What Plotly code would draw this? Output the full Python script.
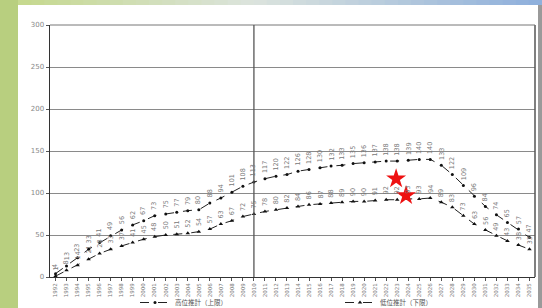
import plotly.graph_objects as go

years = [str(y) for y in range(1992, 2036)]
upper = [4, 13, 23, 33, 41, 49, 56, 62, 67, 73, 75, 77, 79, 80, 88, 94, 101, 108, 113,
         117, 120, 122, 126, 128, 130, 132, 133, 135, 136, 137, 138, 138, 139, 140, 140,
         133, 122, 109, 96, 84, 74, 65, 57, 47]
lower = [1, 8, 14, 21, 28, 33, 37, 41, 45, 48, 50, 51, 52, 54, 57, 63, 67, 72, 75,
         78, 80, 82, 84, 86, 87, 88, 89, 90, 90, 91, 92, 92, 93, 93, 94,
         89, 83, 73, 63, 56, 49, 43, 38, 33]
series_names = ["高位推計（上限）", "低位推計（下限）"]
star_x = [30.9, 31.8]
star_y = [117, 97]
divider_year_index = 18
y_ticks = [0, 50, 100, 150, 200, 250, 300]

W, H = 542, 308
L, R, T, B = 50, 7, 25, 31
PW, PH = W - L - R, H - T - B

def px(x):
    return (x - L) / PW

def py(y):
    return (H - B - y) / PH

idx = list(range(len(years)))

fig = go.Figure()
fig.add_trace(go.Scatter(
    x=idx, y=upper, mode="lines+markers", name=series_names[0],
    line=dict(color="#222", width=1, dash="dash"),
    marker=dict(symbol="circle", size=3, color="#111"),
))
fig.add_trace(go.Scatter(
    x=idx, y=lower, mode="lines+markers", name=series_names[1],
    line=dict(color="#222", width=1, dash="dash"),
    marker=dict(symbol="triangle-up", size=4, color="#111"),
))
fig.add_trace(go.Scatter(
    x=star_x, y=star_y, mode="markers", showlegend=False,
    marker=dict(symbol="star", size=15, color="#ee1111", line=dict(width=0)),
))

annotations = []
for series in (upper, lower):
    for i, v in zip(idx, series):
        s = str(v)
        annotations.append(dict(
            x=i, y=v, xref="x", yref="y", text=s, showarrow=False,
            textangle=-90, font=dict(size=6.5, color="#777", family="DejaVu Sans"),
            yshift=5 + 2.2 * len(s),
        ))

shapes = []
shapes.append(dict(type="rect", xref="paper", yref="paper",
                   x0=px(0), x1=px(18), y0=py(H), y1=py(0),
                   fillcolor="#b8cf7f", line=dict(width=0), layer="below"))
n = 40
c0 = (198, 217, 143)
c1 = (220, 228, 222)
c2 = (143, 176, 220)
for k in range(n):
    t = k / (n - 1)
    if t < 0.45:
        u = t / 0.45
        c = tuple(int(c0[j] + (c1[j] - c0[j]) * u) for j in range(3))
    else:
        u = (t - 0.45) / 0.55
        c = tuple(int(c1[j] + (c2[j] - c1[j]) * u) for j in range(3))
    xa = 18 + (W - 18) * k / n
    xb = 18 + (W - 18) * (k + 1) / n + 1
    shapes.append(dict(type="rect", xref="paper", yref="paper",
                       x0=px(xa), x1=px(xb), y0=py(5), y1=py(0),
                       fillcolor="rgb(%d,%d,%d)" % c, line=dict(width=0), layer="below"))
shapes.append(dict(type="rect", xref="paper", yref="paper",
                   x0=px(538), x1=px(542), y0=py(H), y1=py(5),
                   fillcolor="#9a9a9a", line=dict(width=0), layer="below"))
shapes.append(dict(type="line", xref="paper", yref="paper", x0=1, x1=1, y0=0, y1=1,
                   line=dict(color="#555", width=1.5)))
shapes.append(dict(type="line", xref="paper", yref="paper", x0=0, x1=1, y0=1, y1=1,
                   line=dict(color="#777", width=1)))
shapes.append(dict(type="line", xref="x", yref="paper", x0=divider_year_index,
                   x1=divider_year_index, y0=0, y1=1,
                   line=dict(color="#555", width=1.3)))

fig.update_layout(
    width=W, height=H,
    margin=dict(l=L, r=R, t=T, b=B, autoexpand=False),
    paper_bgcolor="white", plot_bgcolor="white",
    shapes=shapes, annotations=annotations,
    showlegend=True,
    legend=dict(orientation="h", x=px(135), y=py(288), xanchor="left", yanchor="top",
                font=dict(size=6.5, color="#555", family="Noto Sans CJK JP"),
                itemwidth=30, entrywidth=160, entrywidthmode="pixels",
                bgcolor="rgba(0,0,0,0)", tracegroupgap=0, borderwidth=0),
    font=dict(family="DejaVu Sans", size=7, color="#777"),
)
fig.update_xaxes(
    range=[-0.5, len(years) - 0.5], tickmode="array", tickvals=idx, ticktext=years,
    tickangle=-90, tickfont=dict(size=5.5, color="#777"), showgrid=False,
    showline=True, linecolor="#333", linewidth=1, ticks="outside", ticklen=3,
    tickcolor="#555", zeroline=False, fixedrange=True, automargin=False,
)
fig.update_yaxes(
    range=[0, 300], tickvals=y_ticks, tickfont=dict(size=7, color="#888"),
    showgrid=True, gridcolor="#8a8a8a", gridwidth=1,
    showline=True, linecolor="#333", linewidth=1.5, ticks="outside", ticklen=3,
    tickcolor="#555", zeroline=False, fixedrange=True, automargin=False,
)

fig.write_html(
    "out.html",
    config={"displayModeBar": False, "staticPlot": True},
    post_script="document.body.style.margin='0';document.body.style.padding='0';"
                "document.documentElement.style.overflow='hidden';",
)
